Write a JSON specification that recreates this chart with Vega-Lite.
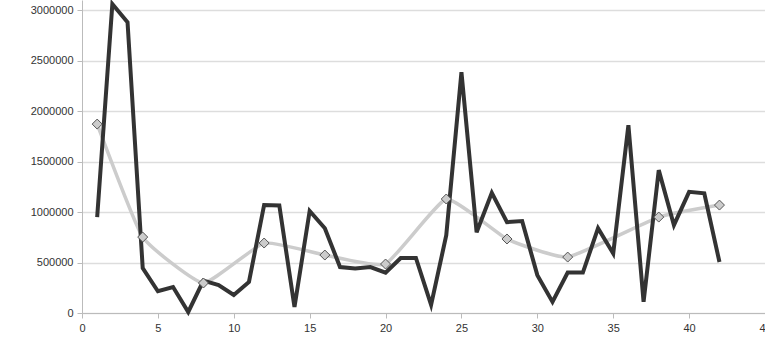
{
  "$schema": "https://vega.github.io/schema/vega-lite/v6.json",
  "autosize": "none",
  "width": 683,
  "height": 313,
  "padding": {"left": 82, "top": 0, "right": 0, "bottom": 30},
  "background": "white",
  "config": {
    "view": {"stroke": null},
    "font": "Liberation Sans",
    "axis": {"labelFont": "Liberation Sans", "labelFontSize": 11, "labelColor": "#333333", "domainColor": "#bbbbbb", "tickColor": "#bbbbbb", "gridColor": "#dddddd", "gridWidth": 1.5}
  },
  "datasets": {
    "dark": [
      {"x": 1, "v": 950000}, {"x": 2, "v": 3060000}, {"x": 3, "v": 2880000}, {"x": 4, "v": 445000},
      {"x": 5, "v": 215000}, {"x": 6, "v": 257000}, {"x": 7, "v": 10000}, {"x": 8, "v": 320000},
      {"x": 9, "v": 277000}, {"x": 10, "v": 178000}, {"x": 11, "v": 307000}, {"x": 12, "v": 1070000},
      {"x": 13, "v": 1065000}, {"x": 14, "v": 60000}, {"x": 15, "v": 1010000}, {"x": 16, "v": 840000},
      {"x": 17, "v": 455000}, {"x": 18, "v": 440000}, {"x": 19, "v": 455000}, {"x": 20, "v": 400000},
      {"x": 21, "v": 545000}, {"x": 22, "v": 545000}, {"x": 23, "v": 80000}, {"x": 24, "v": 770000},
      {"x": 25, "v": 2385000}, {"x": 26, "v": 800000}, {"x": 27, "v": 1190000}, {"x": 28, "v": 900000},
      {"x": 29, "v": 910000}, {"x": 30, "v": 375000}, {"x": 31, "v": 110000}, {"x": 32, "v": 400000},
      {"x": 33, "v": 400000}, {"x": 34, "v": 840000}, {"x": 35, "v": 590000}, {"x": 36, "v": 1860000},
      {"x": 37, "v": 110000}, {"x": 38, "v": 1415000}, {"x": 39, "v": 870000}, {"x": 40, "v": 1200000},
      {"x": 41, "v": 1185000}, {"x": 42, "v": 505000}
    ],
    "light": [
      {"x": 1, "v": 1871000}, {"x": 4, "v": 752000}, {"x": 8, "v": 297000}, {"x": 12, "v": 693000},
      {"x": 16, "v": 574000}, {"x": 20, "v": 485000}, {"x": 24, "v": 1129000}, {"x": 28, "v": 733000},
      {"x": 32, "v": 554000}, {"x": 38, "v": 950000}, {"x": 42, "v": 1069000}
    ]
  },
  "encoding": {
    "x": {"field": "x", "type": "quantitative", "scale": {"domain": [0, 45], "nice": false},
      "axis": {"values": [0, 5, 10, 15, 20, 25, 30, 35, 40, 45], "title": null, "grid": false, "tickSize": 5, "labelPadding": 4, "labelFlush": false}},
    "y": {"field": "v", "type": "quantitative", "scale": {"domain": [0, 3100000], "nice": false},
      "axis": {"values": [0, 500000, 1000000, 1500000, 2000000, 2500000, 3000000], "format": "d", "title": null, "grid": true, "tickSize": 5, "labelPadding": 4, "labelFlush": false}}
  },
  "layer": [
    {"data": {"name": "light"}, "mark": {"type": "line", "color": "#cccccc", "strokeWidth": 3.5, "interpolate": "cardinal", "tension": 0.6}},
    {"data": {"name": "dark"}, "mark": {"type": "line", "color": "#333333", "strokeWidth": 4, "strokeJoin": "miter"}},
    {"data": {"name": "light"}, "mark": {"type": "point", "shape": "diamond", "filled": true, "fill": "#cccccc", "stroke": "#555555", "strokeWidth": 1, "size": 100, "opacity": 1}}
  ]
}
